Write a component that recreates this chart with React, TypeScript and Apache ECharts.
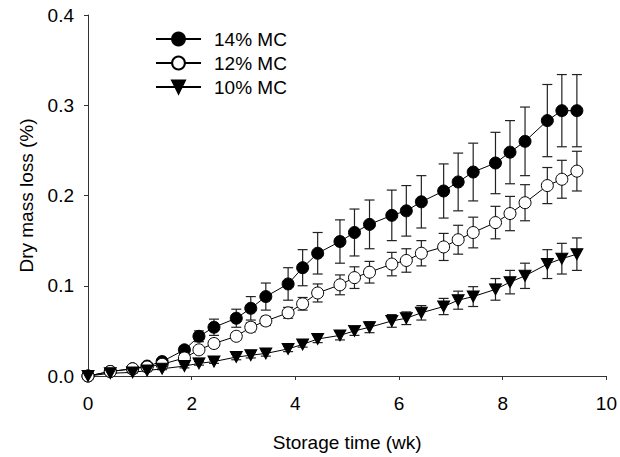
import React, { useEffect, useRef } from "react";
import * as echarts from "echarts";

const weeks = [0, 0.43, 0.86, 1.14, 1.43, 1.86, 2.14, 2.43, 2.86, 3.14, 3.43, 3.86, 4.14, 4.43, 4.86, 5.14, 5.43, 5.86, 6.14, 6.43, 6.86, 7.14, 7.43, 7.86, 8.14, 8.43, 8.86, 9.14, 9.43];

const mc14 = [0, 0.005, 0.008, 0.011, 0.016, 0.029, 0.044, 0.054, 0.064, 0.075, 0.088, 0.102, 0.12, 0.136, 0.149, 0.159, 0.168, 0.178, 0.183, 0.193, 0.205, 0.215, 0.226, 0.236, 0.248, 0.26, 0.283, 0.294, 0.294];
const mc14Err = [0, 0.002, 0.002, 0.002, 0.003, 0.004, 0.006, 0.009, 0.01, 0.013, 0.015, 0.018, 0.02, 0.023, 0.024, 0.026, 0.027, 0.028, 0.028, 0.029, 0.03, 0.032, 0.032, 0.034, 0.035, 0.038, 0.04, 0.04, 0.04];

const mc12 = [0, 0.005, 0.008, 0.01, 0.013, 0.02, 0.029, 0.036, 0.044, 0.054, 0.061, 0.07, 0.08, 0.092, 0.101, 0.109, 0.115, 0.124, 0.128, 0.136, 0.143, 0.151, 0.159, 0.17, 0.18, 0.192, 0.211, 0.218, 0.227];
const mc12Err = [0, 0.001, 0.001, 0.001, 0.002, 0.002, 0.003, 0.004, 0.004, 0.005, 0.005, 0.006, 0.007, 0.01, 0.011, 0.012, 0.012, 0.013, 0.013, 0.014, 0.015, 0.016, 0.017, 0.018, 0.019, 0.02, 0.02, 0.021, 0.022];

const mc10 = [0, 0.003, 0.004, 0.006, 0.008, 0.011, 0.014, 0.016, 0.021, 0.023, 0.025, 0.03, 0.035, 0.041, 0.045, 0.05, 0.054, 0.061, 0.064, 0.07, 0.077, 0.084, 0.088, 0.096, 0.104, 0.111, 0.124, 0.13, 0.135];
const mc10Err = [0, 0.001, 0.001, 0.001, 0.001, 0.002, 0.002, 0.002, 0.003, 0.003, 0.003, 0.003, 0.003, 0.004, 0.005, 0.005, 0.006, 0.007, 0.007, 0.008, 0.009, 0.01, 0.011, 0.012, 0.013, 0.014, 0.016, 0.017, 0.018];

const seriesNames = ["14% MC", "12% MC", "10% MC"];
const xTicks = { min: 0, max: 10, interval: 2 };
const yTicks = { min: 0, max: 0.4, interval: 0.1 };

const FONT = "'Liberation Sans', Arial, sans-serif";
const FS = 19;

function errorSeries(vals: number[], errs: number[]) {
  return {
    type: "custom",
    z: 1,
    silent: true,
    data: weeks.map((w, i) => [w, vals[i], errs[i]]),
    renderItem: (params: any, api: any) => {
      const x = api.value(0);
      const y = api.value(1);
      const e = api.value(2);
      const top = api.coord([x, y + e]);
      const bot = api.coord([x, y - e]);
      const cap = 5;
      const style = { stroke: "#222", lineWidth: 1.2 };
      return {
        type: "group",
        children: [
          { type: "line", shape: { x1: top[0], y1: top[1], x2: bot[0], y2: bot[1] }, style },
          { type: "line", shape: { x1: top[0] - cap, y1: top[1], x2: top[0] + cap, y2: top[1] }, style },
          { type: "line", shape: { x1: bot[0] - cap, y1: bot[1], x2: bot[0] + cap, y2: bot[1] }, style },
        ],
      };
    },
  };
}

function lineSeries(name: string, vals: number[], symbol: string, fill: string, size: any, rotate = 0) {
  return {
    name,
    type: "line",
    z: 3,
    data: weeks.map((w, i) => [w, vals[i]]),
    symbol,
    symbolSize: size,
    symbolRotate: rotate,
    showAllSymbol: true,
    lineStyle: { color: "#000", width: 1 },
    itemStyle: { color: fill, borderColor: "#000", borderWidth: 1 },
  };
}

export default function App() {
  const ref = useRef<HTMLDivElement>(null);
  useEffect(() => {
    document.body.style.margin = "0";
    if (!ref.current) return;
    const chart = echarts.init(ref.current, undefined, { renderer: "svg" });
    chart.setOption({
      animation: false,
      backgroundColor: "#fff",
      textStyle: { fontFamily: FONT },
      grid: { left: 88, right: 10.5, top: 15, bottom: 74 },
      legend: {
        data: seriesNames,
        orient: "vertical",
        left: 155,
        top: 29.5,
        padding: 0,
        itemWidth: 45,
        itemHeight: 16,
        itemGap: 5,
        textStyle: { fontSize: FS, color: "#000", fontFamily: FONT, padding: [0, 0, 0, 8] },
        selectedMode: false,
      },
      xAxis: {
        type: "value",
        min: xTicks.min,
        max: xTicks.max,
        interval: xTicks.interval,
        name: "Storage time (wk)",
        nameLocation: "middle",
        nameGap: 57,
        nameTextStyle: { fontSize: FS, color: "#000", fontFamily: FONT },
        axisLine: { show: true, lineStyle: { color: "#333", width: 1 } },
        axisTick: { show: true, length: 4, lineStyle: { color: "#333" } },
        axisLabel: { fontSize: FS, color: "#000", margin: 18, fontFamily: FONT },
        splitLine: { show: false },
      },
      yAxis: {
        type: "value",
        min: yTicks.min,
        max: yTicks.max,
        interval: yTicks.interval,
        name: "Dry mass loss (%)",
        nameLocation: "middle",
        nameGap: 52,
        nameTextStyle: { fontSize: FS, color: "#000", fontFamily: FONT },
        axisLine: { show: true, lineStyle: { color: "#333", width: 1 } },
        axisTick: { show: true, length: 4, lineStyle: { color: "#333" } },
        axisLabel: {
          fontSize: FS,
          color: "#000",
          margin: 14,
          fontFamily: FONT,
          padding: [7, 0, 0, 0],
          formatter: (v: number) => v.toFixed(1),
        },
        splitLine: { show: false },
      },
      series: [
        errorSeries(mc14, mc14Err),
        errorSeries(mc12, mc12Err),
        errorSeries(mc10, mc10Err),
        lineSeries(seriesNames[0], mc14, "circle", "#000", 12),
        lineSeries(seriesNames[1], mc12, "circle", "#fff", 12),
        lineSeries(seriesNames[2], mc10, "triangle", "#000", [12, 11], 180),
      ],
    });
    return () => chart.dispose();
  }, []);
  return <div ref={ref} style={{ width: 620, height: 457 }} />;
}
